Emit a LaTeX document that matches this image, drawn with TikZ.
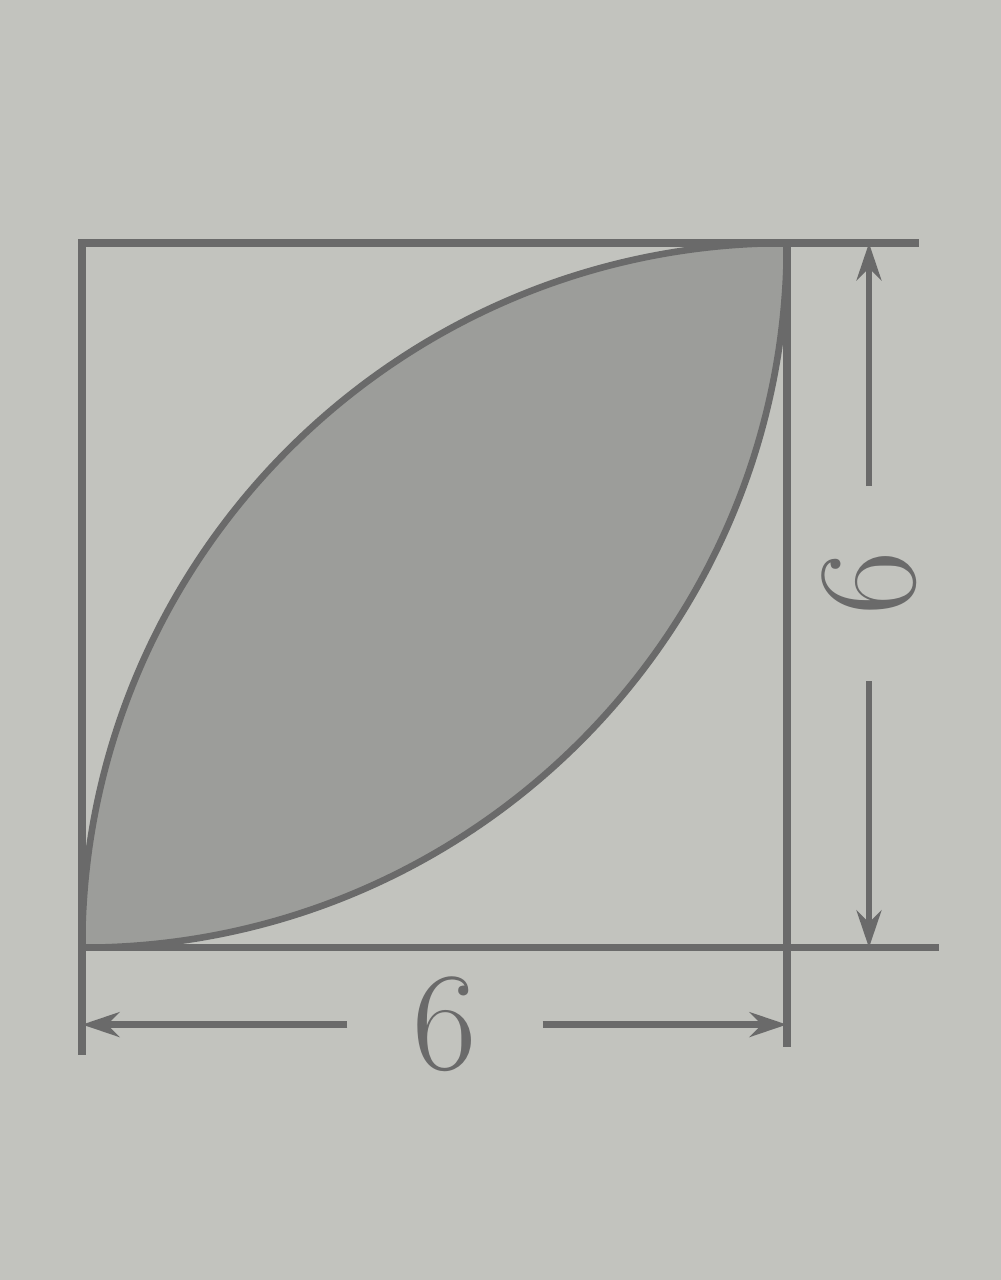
\documentclass[tikz,border=0pt]{standalone}
\usepackage{tikz}
\usetikzlibrary{arrows.meta, calc}
\definecolor{paper}{HTML}{C2C3BE}
\definecolor{ink}{HTML}{6A6A6A}
\definecolor{lensgray}{HTML}{9C9D9A}

\begin{document}
\begin{tikzpicture}[
  >={Stealth[length=9pt, width=6pt]},
  edge/.style={draw=ink, line width=1.8pt},
  lens/.style={draw=ink, line width=1.6pt, fill=lensgray},
  dimline/.style={draw=ink, line width=1.6pt},
  dimlabel/.style={text=ink, font=\fontsize{34}{34}\selectfont, inner xsep=0.55cm, inner ysep=0pt}
]
% Background and frame
\fill[paper] (-0.70,-2.83) rectangle (7.82,8.07);
\useasboundingbox (-0.70,-2.83) rectangle (7.82,8.07);
% Corners
\coordinate (A) at (0,0);
\coordinate (B) at (6,0);
\coordinate (C) at (6,6);
\coordinate (D) at (0,6);
% Shaded lens
\path[lens] (A) arc[start angle=180, end angle=90, radius=6]
  arc[start angle=0, end angle=-90, radius=6] -- cycle;
% Square
\draw[edge] (A) -- (B) -- (C) -- (D) -- cycle;
% Extension lines
\coordinate (Cx) at (7.13,6);
\coordinate (Bx) at (7.30,0);
\coordinate (Ay) at (0,-0.91);
\coordinate (By) at (6,-0.85);
\draw[edge] (C) -- (Cx);
\draw[edge] (B) -- (Bx);
\draw[edge] (A) -- (Ay);
\draw[edge] (B) -- (By);
% Horizontal dimension
\coordinate (hL) at (0,-0.655);
\coordinate (hR) at (6,-0.655);
\node[dimlabel] (wlab) at (3.09,-0.655) {6};
\draw[dimline, ->] (wlab.west) -- (hL);
\draw[dimline, ->] (wlab.east) -- (hR);
% Vertical dimension
\coordinate (vB) at (6.70,0);
\coordinate (vT) at (6.70,6);
\node[dimlabel, rotate=90] (hlab) at (6.70,3.1) {6};
\draw[dimline, ->] (hlab.east) -- (vT);
\draw[dimline, ->] (hlab.west) -- (vB);
\end{tikzpicture}
\end{document}
